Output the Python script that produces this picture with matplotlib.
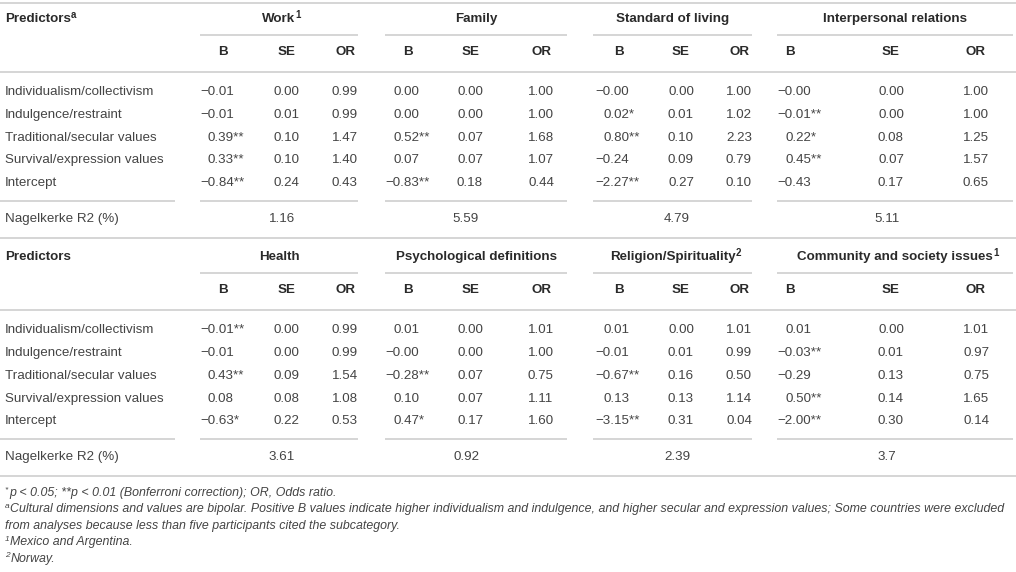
import matplotlib
matplotlib.use("Agg")
import matplotlib.pyplot as plt

plt.rcParams['font.family'] = ['Liberation Sans', 'DejaVu Sans']

predictors = ["Individualism/collectivism", "Indulgence/restraint",
              "Traditional/secular values", "Survival/expression values", "Intercept"]

# top block
groups_top = ["Work", "Family", "Standard of living", "Interpersonal relations"]
sup_top = ["1", "", "", ""]
B_top = [[-0.01, -0.01, 0.39, 0.33, -0.84],
         [0.00, 0.00, 0.52, 0.07, -0.83],
         [-0.00, 0.02, 0.80, -0.24, -2.27],
         [-0.00, -0.01, 0.22, 0.45, -0.43]]
sig_top = [["", "", "**", "**", "**"],
           ["", "", "**", "", "**"],
           ["", "*", "**", "", "**"],
           ["", "**", "*", "**", ""]]
SE_top = [[0.00, 0.01, 0.10, 0.10, 0.24],
          [0.00, 0.00, 0.07, 0.07, 0.18],
          [0.00, 0.01, 0.10, 0.09, 0.27],
          [0.00, 0.00, 0.08, 0.07, 0.17]]
OR_top = [[0.99, 0.99, 1.47, 1.40, 0.43],
          [1.00, 1.00, 1.68, 1.07, 0.44],
          [1.00, 1.02, 2.23, 0.79, 0.10],
          [1.00, 1.00, 1.25, 1.57, 0.65]]
r2_top = ["1.16", "5.59", "4.79", "5.11"]

# bottom block
groups_bot = ["Health", "Psychological definitions", "Religion/Spirituality",
              "Community and society issues"]
sup_bot = ["", "", "2", "1"]
B_bot = [[-0.01, -0.01, 0.43, 0.08, -0.63],
         [0.01, -0.00, -0.28, 0.10, 0.47],
         [0.01, -0.01, -0.67, 0.13, -3.15],
         [0.01, -0.03, -0.29, 0.50, -2.00]]
sig_bot = [["**", "", "**", "", "*"],
           ["", "", "**", "", "*"],
           ["", "", "**", "", "**"],
           ["", "**", "", "**", "**"]]
SE_bot = [[0.00, 0.00, 0.09, 0.08, 0.22],
          [0.00, 0.00, 0.07, 0.07, 0.17],
          [0.00, 0.01, 0.16, 0.13, 0.31],
          [0.00, 0.01, 0.13, 0.14, 0.30]]
OR_bot = [[0.99, 0.99, 1.54, 1.08, 0.53],
          [1.01, 1.00, 0.75, 1.11, 1.60],
          [1.01, 0.99, 0.50, 1.14, 0.04],
          [1.01, 0.97, 0.75, 1.65, 0.14]]
r2_bot = ["3.61", "0.92", "2.39", "3.7"]

footnotes = [("*", "p < 0.05; **p < 0.01 (Bonferroni correction); OR, Odds ratio."),
             ("a", "Cultural dimensions and values are bipolar. Positive B values indicate higher "
                   "individualism and indulgence, and higher secular and expression values; "
                   "Some countries were excluded"),
             ("", "from analyses because less than five participants cited the subcategory."),
             ("1", "Mexico and Argentina."),
             ("2", "Norway.")]

# layout (pixel coordinates)
W, H = 1016, 572
spans = [(200, 358), (385, 567), (593, 752), (777, 1013)]
b_head = [223, 408, 619, 790]
b_left = [200, 385, 595, 777]
se_x = [286, 470, 681, 891]
or_x = [345, 541, 739, 976]
minus_w = 8

TXT = "#444444"
BOLD = "#2a2a2a"
LINE = "#d2d2d2"
FS = 9.6
ROW = 22.8

fig = plt.figure(figsize=(W / 100, H / 100), dpi=100)
ax = fig.add_axes([0, 0, 1, 1])
ax.set_xlim(0, W)
ax.set_ylim(H, 0)
ax.axis("off")


def hline(y, x0=0, x1=W):
    ax.plot([x0, x1], [y, y], color=LINE, lw=1.3, solid_capstyle="butt")


def fmt(v):
    return f"{v:.2f}".replace("-", "\u2212")


def sup(artist, s, size=7):
    ax.annotate(s, xy=(1, 0.5), xycoords=artist, xytext=(0.0, 3.0),
                textcoords="offset points", ha="left", va="center",
                fontsize=size, fontweight="bold", color=BOLD)


def bold(x, y, s, ha="center"):
    return ax.text(x, y, s, ha=ha, va="center", fontsize=FS,
                   fontweight="bold", color=BOLD)


def block(y0, title_sup, groups, sups, B, sig, SE, OR, r2):
    t = bold(5, y0 + 19, "Predictors", ha="left")
    if title_sup:
        sup(t, title_sup)
    y_bse = y0 + 52
    for g in range(4):
        x0, x1 = spans[g]
        gt = bold((x0 + x1) / 2, y0 + 19, groups[g])
        if sups[g]:
            sup(gt, sups[g])
        hline(y0 + 35, x0, x1)
        bold(b_head[g], y_bse, "B")
        bold(se_x[g], y_bse, "SE")
        bold(or_x[g], y_bse, "OR")
    hline(y0 + 72)
    rows_y = [y0 + 92 + ROW * i for i in range(len(predictors))]
    for i, name in enumerate(predictors):
        y = rows_y[i]
        ax.text(5, y, name, ha="left", va="center", fontsize=FS, color=TXT)
        for g in range(4):
            s = fmt(B[g][i])
            x = b_left[g] if s.startswith("\u2212") else b_left[g] + minus_w
            ax.text(x, y, s + sig[g][i], ha="left", va="center", fontsize=FS, color=TXT)
            ax.text(se_x[g], y, fmt(SE[g][i]), ha="center", va="center",
                    fontsize=FS, color=TXT)
            ax.text(or_x[g], y, fmt(OR[g][i]), ha="center", va="center",
                    fontsize=FS, color=TXT)
    y_line = rows_y[-1] + 18
    hline(y_line, 0, 175)
    for g in range(4):
        hline(y_line, *spans[g])
    y_r2 = y_line + 18
    ax.text(5, y_r2, "Nagelkerke R2 (%)", ha="left", va="center", fontsize=FS, color=TXT)
    for g in range(4):
        ax.text(se_x[g] - 4, y_r2, r2[g], ha="center", va="center", fontsize=FS, color=TXT)
    y_next = y_r2 + 19
    hline(y_next)
    return y_next


hline(3)
y_end = block(0, "a", groups_top, sup_top, B_top, sig_top, SE_top, OR_top, r2_top)
y_end = block(y_end, "", groups_bot, sup_bot, B_bot, sig_bot, SE_bot, OR_bot, r2_bot)

fy = y_end + 16.5
for mark, txt in footnotes:
    if mark:
        m = ax.text(5, fy - 3, mark, ha="left", va="center", fontsize=6,
                    style="italic", color=TXT)
        ax.annotate(txt, xy=(1, 0.5), xycoords=m, xytext=(0.5, -2.2),
                    textcoords="offset points", ha="left", va="center",
                    fontsize=8.95, style="italic", color=TXT)
    else:
        ax.text(5, fy, txt, ha="left", va="center", fontsize=8.95,
                style="italic", color=TXT)
    fy += 16.5

fig.savefig("out.png", dpi=100)
